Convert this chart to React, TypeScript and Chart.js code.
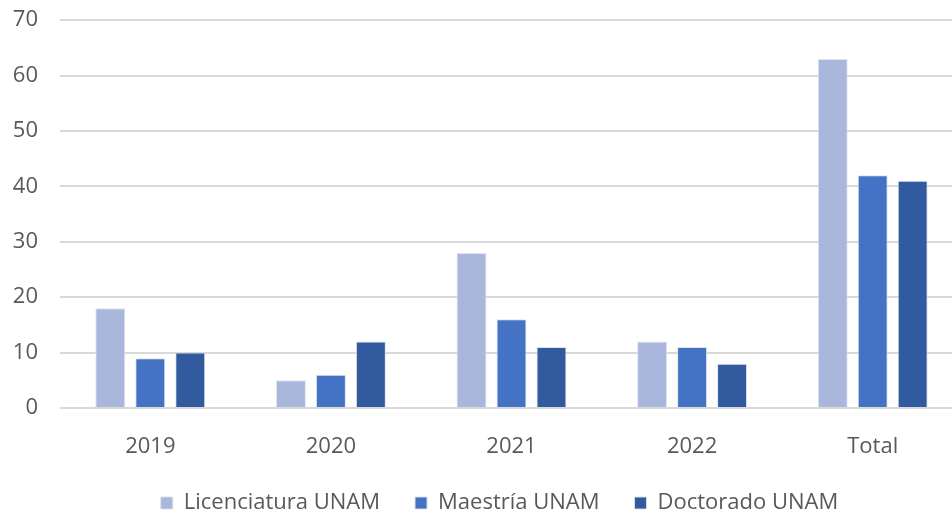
import React, { useEffect, useRef } from "react";
import { Chart, registerables } from "chart.js";

Chart.register(...registerables);

const categories = ["2019", "2020", "2021", "2022", "Total"];
const licenciatura = [18, 5, 28, 12, 63];
const maestria = [9, 6, 16, 11, 42];
const doctorado = [10, 12, 11, 8, 41];
const seriesNames = ["Licenciatura UNAM", "Maestría UNAM", "Doctorado UNAM"];
const seriesColors = ["#A9B7DC", "#4472C4", "#325A9E"];

const shiftLegend = {
  id: "shiftLegend",
  afterLayout(chart: any) {
    const l = chart.legend;
    if (l) {
      l.left += 12;
      l.right += 12;
    }
  },
};

export default function App() {
  const ref = useRef<HTMLCanvasElement | null>(null);
  useEffect(() => {
    document.body.style.margin = "0";
    document.documentElement.style.overflow = "hidden";
    document.body.style.overflow = "hidden";
    if (!ref.current) return;
    const font = { family: "'Open Sans', sans-serif", size: 22 };
    const chart = new Chart(ref.current, {
      type: "bar",
      data: {
        labels: categories,
        datasets: [licenciatura, maestria, doctorado].map((d, i) => ({
          label: seriesNames[i],
          data: d,
          backgroundColor: seriesColors[i],
          borderColor: "rgba(220,225,235,0.9)",
          borderWidth: 1,
          barPercentage: 0.75,
          categoryPercentage: 0.664,
        })),
      },
      plugins: [shiftLegend],
      options: {
        responsive: false,
        animation: false,
        layout: { padding: { left: 12, right: 1, top: 6, bottom: 0 } },
        plugins: {
          legend: {
            position: "bottom",
            labels: {
              font,
              color: "#595959",
              boxWidth: 12,
              boxHeight: 12,
              padding: 35,
            },
          },
          tooltip: { enabled: false },
        },
        scales: {
          x: {
            grid: { display: false, drawTicks: false },
            border: { display: false },
            ticks: { font, color: "#595959", padding: 26 },
            afterFit: (s: any) => {
              s.height = 49;
            },
          },
          y: {
            min: 0,
            max: 70,
            ticks: { stepSize: 10, font, color: "#595959", padding: 22 },
            grid: { color: "#d9d9d9", lineWidth: 2, drawTicks: false },
            border: { display: false },
            afterFit: (s: any) => {
              s.width = 48;
            },
          },
        },
      },
    } as any);
    return () => chart.destroy();
  }, []);
  return (
    <div style={{ width: 952, height: 517, overflow: "hidden" }}>
      <canvas
        ref={ref}
        width={964}
        height={539}
        style={{ display: "block", marginTop: -15 }}
      />
    </div>
  );
}
